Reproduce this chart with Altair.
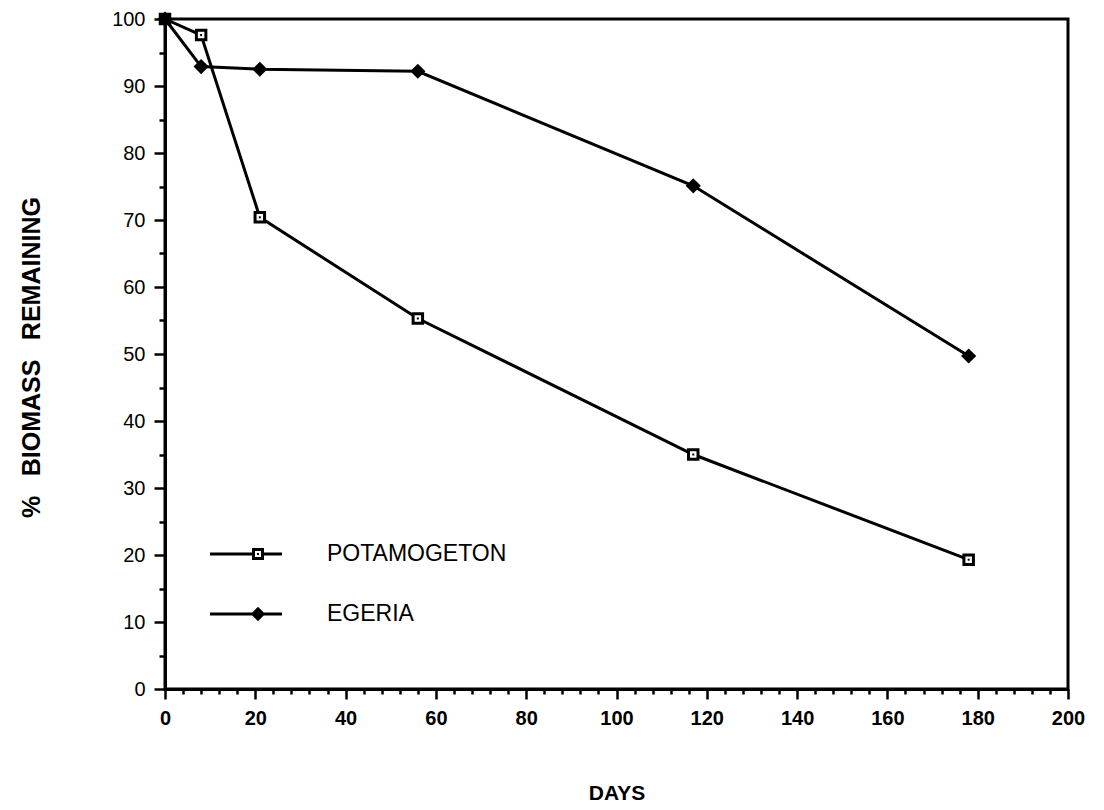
import altair as alt
import pandas as pd

# ---- data ----
days = [0, 8, 21, 56, 117, 178]
potamogeton = [100, 97.6, 70.4, 55.3, 35.0, 19.3]
egeria = [100, 92.9, 92.5, 92.2, 75.1, 49.7]
series_names = ["POTAMOGETON", "EGERIA"]

x_tick_values = list(range(0, 201, 4))
y_tick_values = list(range(0, 101, 5))

rows = []
for d, v in zip(days, potamogeton):
    rows.append({"day": d, "pct": v, "series": "POTAMOGETON"})
for d, v in zip(days, egeria):
    rows.append({"day": d, "pct": v, "series": "EGERIA"})
df = pd.DataFrame(rows)

FONT = "Liberation Sans"
W, H = 903, 670

x_axis = alt.Axis(
    values=x_tick_values,
    title="DAYS",
    labelExpr="datum.value % 20 === 0 ? datum.label : ''",
    tickSize={"condition": {"test": "datum.value % 20 === 0", "value": 10}, "value": 5},
    labelOverlap=False,
    labelFlush=False,
    labelFontSize=20,
    labelFontWeight="bold",
    labelPadding=9,
    titleFontSize=21,
    titleFontWeight="bold",
    titleX=W / 2,
    titleY=104,
    titleBaseline="middle",
    titleAlign="center",
)
y_axis = alt.Axis(
    values=y_tick_values,
    title="%\u2002 BIOMASS\u2002 REMAINING",
    labelExpr="datum.value % 10 === 0 ? datum.label : ''",
    tickSize={"condition": {"test": "datum.value % 10 === 0", "value": 11}, "value": 6},
    labelOverlap=False,
    labelFlush=False,
    labelFontSize=20,
    labelFontWeight="normal",
    labelPadding=9,
    titleFontSize=25,
    titleFontWeight="bold",
    titleX=-134,
    titleY=338,
    titleAngle=270,
    titleBaseline="middle",
    titleAlign="center",
)

x_enc = alt.X("day:Q", scale=alt.Scale(domain=[0, 200], nice=False, zero=False), axis=x_axis)
y_enc = alt.Y("pct:Q", scale=alt.Scale(domain=[0, 100], nice=False, zero=False), axis=y_axis)

base = alt.Chart(df)

lines = base.mark_line(color="black", strokeWidth=3).encode(
    x=x_enc, y=y_enc, detail="series:N"
)

pot_pts = base.transform_filter(alt.datum.series == "POTAMOGETON").mark_point(
    shape="square", size=90, filled=True, fill="white", stroke="black",
    strokeWidth=3, opacity=1
).encode(x=x_enc, y=y_enc)

pot_dots = base.transform_filter(alt.datum.series == "POTAMOGETON").mark_point(
    shape="square", size=4, filled=True, color="black", opacity=1
).encode(x=x_enc, y=y_enc)

eg_pts = base.transform_filter(alt.datum.series == "EGERIA").mark_point(
    shape="diamond", size=230, filled=True, color="black", opacity=1
).encode(x=x_enc, y=y_enc)

# legend symbols (filled paths): a line with the marker drawn on it
pot_path = (
    "M-3,-0.13H0.55V0.13H-3Z"
    "M1.45,-0.13H3V0.13H1.45Z"
    "M0.5,-0.5H1.5V0.5H0.5Z"
    "M0.75,-0.25V0.25H1.25V-0.25Z"
    "M0.92,-0.08H1.08V0.08H0.92Z"
)
eg_path = "M-3,-0.13H3V0.13H-3ZM1,-0.6L1.6,0L1,0.6L0.4,0Z"

legend_layer = base.mark_point(filled=True, color="black", opacity=0).encode(
    x=x_enc,
    y=y_enc,
    shape=alt.Shape(
        "series:N",
        scale=alt.Scale(domain=series_names, range=[pot_path, eg_path]),
        legend=alt.Legend(
            title=None,
            orient="none",
            legendX=69,
            legendY=523,
            padding=0,
            symbolSize=576,
            symbolFillColor="black",
            symbolStrokeColor="black",
            symbolStrokeWidth=0,
            symbolOpacity=1,
            labelFont=FONT,
            labelFontSize=23,
            labelColor="black",
            labelOffset=69,
            labelLimit=0,
            rowPadding=36,
        ),
    ),
)

chart = (
    alt.layer(lines, pot_pts, pot_dots, eg_pts, legend_layer)
    .properties(
        width=W,
        height=H,
        autosize=alt.AutoSizeParams(type="none"),
        padding={"left": 157, "top": 11, "right": 20, "bottom": 115},
        background="white",
    )
    .configure_view(stroke="black", strokeWidth=3)
    .configure_axis(
        domainColor="black",
        domainWidth=3,
        tickColor="black",
        tickWidth=2.5,
        labelColor="black",
        titleColor="black",
        labelFont=FONT,
        titleFont=FONT,
        grid=False,
    )
)

chart.save("out.html", embed_options={"renderer": "svg", "actions": False})
